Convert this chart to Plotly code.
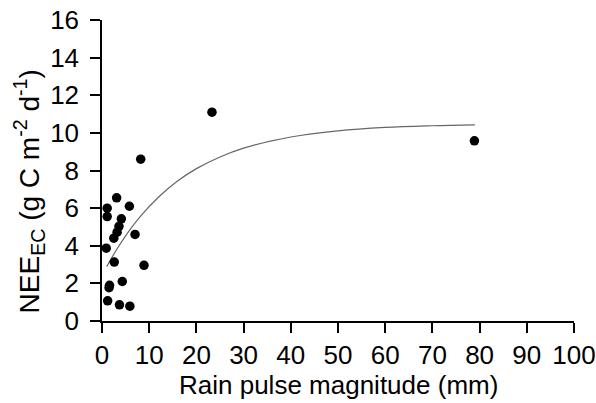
import plotly.graph_objects as go

# Observed data (rain pulse magnitude, NEE_EC)
rain_mm = [1.1, 3.1, 5.8, 1.1, 4.1, 3.6, 3.2, 2.5, 7.0, 0.9, 2.6, 8.9,
           1.6, 1.5, 4.3, 1.2, 3.7, 5.9, 8.2, 23.3, 78.9]
nee_ec = [6.0, 6.55, 6.1, 5.55, 5.43, 5.03, 4.72, 4.4, 4.6, 3.87, 3.13, 2.96,
          1.9, 1.77, 2.1, 1.07, 0.86, 0.79, 8.6, 11.1, 9.58]

# Fitted curve
fit_x = [1, 3, 5, 8, 12, 16, 20, 25, 30, 40, 50, 60, 70, 79]
fit_y = [2.89, 3.76, 4.53, 5.52, 6.59, 7.44, 8.10, 8.72, 9.19, 9.78, 10.11, 10.29, 10.38, 10.43]

x_ticks = [0, 10, 20, 30, 40, 50, 60, 70, 80, 90, 100]
y_ticks = [0, 2, 4, 6, 8, 10, 12, 14, 16]

FONT = "Liberation Sans, Arial, sans-serif"
FS = 26

fig = go.Figure()
fig.add_trace(go.Scatter(
    x=fit_x, y=fit_y, mode="lines", line=dict(color="#666666", width=1.2, shape="spline"),
    showlegend=False, hoverinfo="skip", cliponaxis=False))
fig.add_trace(go.Scatter(
    x=rain_mm, y=nee_ec, mode="markers",
    marker=dict(color="black", size=9.5), showlegend=False, cliponaxis=False))

axis_common = dict(
    showline=True, linecolor="black", linewidth=1.5,
    ticks="outside", ticklen=10, tickwidth=1.5, tickcolor="black",
    showgrid=False, zeroline=False, automargin=False,
    tickfont=dict(family=FONT, size=FS, color="black"),
)
fig.update_xaxes(range=[0, 100], tickvals=x_ticks, **axis_common)
fig.update_yaxes(range=[0, 16], tickvals=y_ticks, ticklabelstandoff=6, **axis_common)

fig.add_annotation(
    text="Rain pulse magnitude (mm)", xref="paper", yref="paper",
    x=0.5, y=-0.214, xanchor="center", yanchor="middle", showarrow=False,
    font=dict(family=FONT, size=FS, color="black"))
fig.add_annotation(
    text="NEE<sub>EC</sub> (g C m<sup>-2</sup> d<sup>-1</sup>)", xref="paper", yref="paper",
    x=-0.155, y=0.43, xanchor="center", yanchor="middle", textangle=-90, showarrow=False,
    font=dict(family=FONT, size=28, color="black"))

fig.update_layout(
    width=596, height=403, autosize=False,
    margin=dict(l=102, r=22, t=20, b=82, autoexpand=False),
    plot_bgcolor="white", paper_bgcolor="white",
    font=dict(family=FONT, size=FS, color="black"),
)

fig.write_html("out.html")
